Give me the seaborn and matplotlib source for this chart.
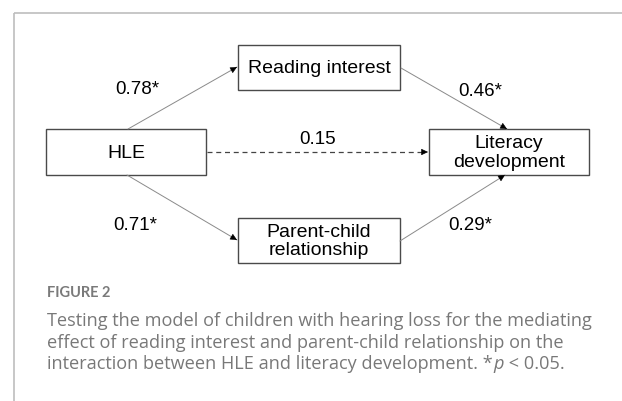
import matplotlib
matplotlib.use("Agg")
import matplotlib.pyplot as plt
import seaborn as sns
from matplotlib.patches import Rectangle

sns.set_theme(style="white")
plt.rcParams['font.family'] = ['Liberation Sans', 'DejaVu Sans']

# ---- data ----
node_names = ["HLE", "Reading interest", "Literacy\ndevelopment", "Parent-child\nrelationship"]
path_coef = ["0.78*", "0.46*", "0.15", "0.71*", "0.29*"]
path_dashed = [False, False, True, False, False]
fig_label = "FIGURE 2"
caption_lines = [
    "Testing the model of children with hearing loss for the mediating",
    "effect of reading interest and parent-child relationship on the",
    "interaction between HLE and literacy development. *",
]
caption_tail_italic = "p"
caption_tail = " < 0.05."

# ---- layout (pixel coordinates, y downward) ----
boxes = {  # x0, y0, x1, y1
    "HLE": (46, 129, 206, 175),
    "Reading interest": (238, 45, 400, 90),
    "Literacy\ndevelopment": (429, 129, 589, 175),
    "Parent-child\nrelationship": (238, 218, 400, 263),
}
path_pts = [((128, 129), (237, 67)),
            ((401, 68), (507, 129)),
            ((207, 152), (428, 152)),
            ((127, 175), (237, 240)),
            ((400, 241), (505, 175))]
label_pos = [(137, 90), (480, 92), (318, 140), (135, 225), (470, 225)]

W, H = 622, 401
fig = plt.figure(figsize=(W / 100, H / 100), dpi=100)
ax = fig.add_axes([0, 0, 1, 1])
ax.set_xlim(0, W)
ax.set_ylim(H, 0)
ax.axis("off")

# frame lines
ax.plot([14, 14], [13, H], color="#bdbdbd", lw=1.2, solid_capstyle="butt")
ax.plot([14, W], [13, 13], color="#bdbdbd", lw=1.2, solid_capstyle="butt")

for name in node_names:
    x0, y0, x1, y1 = boxes[name]
    ax.add_patch(Rectangle((x0, y0), x1 - x0, y1 - y0, fill=False,
                           edgecolor="#4a4a4a", lw=1.0))
    ax.text((x0 + x1) / 2, (y0 + y1) / 2 + 1, name, ha="center", va="center",
            fontsize=14, color="black", linespacing=1.15)

for (p0, p1), coef, dashed, lp in zip(path_pts, path_coef, path_dashed, label_pos):
    if dashed:
        ax.plot([p0[0], p1[0] - 3], [p0[1], p1[1]], color="#444444", lw=0.9,
                dashes=(4, 3))
    else:
        ax.plot([p0[0], p1[0]], [p0[1], p1[1]], color="#8a8a8a", lw=0.7)
    dx, dy = p1[0] - p0[0], p1[1] - p0[1]
    L = (dx ** 2 + dy ** 2) ** 0.5
    s = (p1[0] - dx / L * 5, p1[1] - dy / L * 5)
    ax.annotate("", xy=p1, xytext=s,
                arrowprops=dict(arrowstyle="-|>,head_length=0.42,head_width=0.2",
                                color="black", lw=0.4, shrinkA=0, shrinkB=0,
                                mutation_scale=10))
    ax.text(lp[0], lp[1], coef, ha="center", va="center", fontsize=13.5,
            color="black")

# caption
ax.text(47, 293, fig_label, ha="left", va="center", fontsize=10.5,
        color="#7a7a7a", fontweight="bold", family=["Lato", "DejaVu Sans"])
cap_font = ["Open Sans", "DejaVu Sans"]
cap_col = "#787878"
cap_y = [321, 343, 364]
texts = []
for line, y in zip(caption_lines, cap_y):
    t = ax.text(47, y, line, ha="left", va="center", fontsize=12.5,
                color=cap_col, family=cap_font)
    texts.append(t)

fig.canvas.draw()
r = fig.canvas.get_renderer()
w = texts[0].get_window_extent(r).width
scale = 546 / w
fs = texts[0].get_fontsize() * scale
for t in texts:
    t.set_fontsize(fs)
fig.canvas.draw()
inv = ax.transData.inverted()
x_end = inv.transform((texts[2].get_window_extent(r).x1, 0))[0]
tp = ax.text(x_end + 0.5, cap_y[2], caption_tail_italic, ha="left", va="center",
             fontsize=fs, color=cap_col, family=cap_font, style="italic")
fig.canvas.draw()
x_end2 = inv.transform((tp.get_window_extent(r).x1, 0))[0]
ax.text(x_end2, cap_y[2], caption_tail, ha="left", va="center",
        fontsize=fs, color=cap_col, family=cap_font)

fig.savefig("out.png", dpi=100)
